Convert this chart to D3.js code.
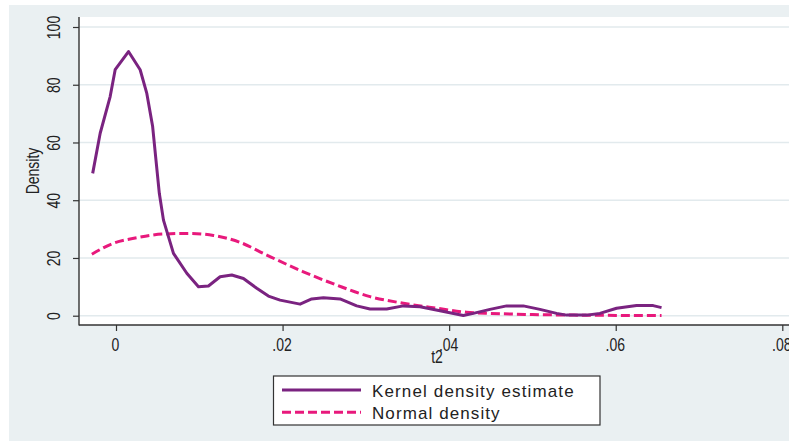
<!DOCTYPE html>
<html>
<head>
<meta charset="utf-8">
<script src="https://cdn.jsdelivr.net/npm/d3@7"></script>
<style>
  html, body { margin: 0; padding: 0; background: #ffffff; }
  svg { display: block; }
</style>
</head>
<body>
<script>
// ---- data ----
const kdeX = [-0.0028, -0.0019, -0.0007, -0.0001, 0.0015, 0.0029, 0.0037, 0.0044, 0.0048, 0.0052, 0.0057, 0.0069, 0.0085, 0.0099, 0.0111, 0.0125, 0.0139, 0.0153, 0.0169, 0.0183, 0.0197, 0.0221, 0.0235, 0.0249, 0.0269, 0.0289, 0.0305, 0.0325, 0.0345, 0.0365, 0.0389, 0.0417, 0.0429, 0.0449, 0.0469, 0.0489, 0.0509, 0.0529, 0.0541, 0.0565, 0.0581, 0.0601, 0.0625, 0.0645, 0.0655];
const kdeY = [49.3, 63.2, 75.9, 85.2, 91.5, 85.2, 77.0, 65.5, 53.9, 42.4, 33.1, 21.6, 14.7, 10.0, 10.3, 13.5, 14.1, 12.9, 9.5, 6.8, 5.4, 4.0, 5.8, 6.2, 5.8, 3.4, 2.3, 2.3, 3.4, 3.1, 1.7, 0.1, 0.8, 2.2, 3.4, 3.4, 2.2, 0.8, 0.2, 0.2, 0.8, 2.6, 3.5, 3.5, 2.8];
const normX = [-0.0029, -0.0003, 0.0025, 0.0057, 0.0089, 0.0117, 0.0149, 0.0181, 0.0225, 0.0265, 0.0305, 0.0345, 0.0385, 0.0421, 0.0450, 0.0500, 0.0550, 0.0600, 0.0655];
const normY = [21.3, 25.1, 27.0, 28.3, 28.5, 27.8, 25.4, 21.0, 15.2, 10.6, 6.6, 4.3, 2.6, 1.2, 0.8, 0.4, 0.2, 0.1, 0.05];
const xTicks = [0, 0.02, 0.04, 0.06, 0.08];
const xTickLabels = ["0", ".02", ".04", ".06", ".08"];
const yTicks = [0, 20, 40, 60, 80, 100];
const yTickLabels = ["0", "20", "40", "60", "80", "100"];
const seriesNames = ["Kernel density estimate", "Normal density"];
const xTitle = "t2";
const yTitle = "Density";

// ---- layout ----
const W = 789, H = 441;
const plotL = 79, plotT = 17, plotR = 789, plotB = 325;
const purple = "#7a2380", pink = "#e8197c";
const bg = "#eaf0f2", grid = "#e2eaed", axisCol = "#333333";
const textFont = "'Liberation Sans', Arial, sans-serif";
const narrow = 0.8;   // horizontal compression of axis texts

const svg = d3.select("body").append("svg").attr("width", W).attr("height", H);

svg.append("rect").attr("x", 9).attr("y", 5).attr("width", W - 9).attr("height", H - 5).attr("fill", bg);
svg.append("rect").attr("x", plotL).attr("y", plotT).attr("width", plotR - plotL).attr("height", plotB - plotT).attr("fill", "#ffffff");

const x = d3.scaleLinear().domain([0, 0.08]).range([116, 782.3]);
const y = d3.scaleLinear().domain([0, 100]).range([315.7, 27]);

// gridlines
svg.append("g").selectAll("line").data(yTicks).join("line")
  .attr("x1", plotL).attr("x2", plotR)
  .attr("y1", d => y(d)).attr("y2", d => y(d))
  .attr("stroke", grid).attr("stroke-width", 1.5);

// y axis
const yAxis = d3.axisLeft(y).tickValues(yTicks).tickSize(6).tickSizeOuter(0)
  .tickFormat((d, i) => yTickLabels[i]);
const gy = svg.append("g").attr("transform", `translate(${plotL},0)`).call(yAxis);
gy.select(".domain").remove();
gy.selectAll(".tick line").attr("stroke", axisCol).attr("stroke-width", 1.2);
gy.selectAll(".tick text")
  .attr("x", null).attr("dy", null)
  .attr("transform", `translate(-19,0) rotate(-90) scale(${narrow},1)`)
  .attr("text-anchor", "middle")
  .attr("font-family", textFont).attr("font-size", 17.5).attr("fill", "#222");

// x axis
const xAxis = d3.axisBottom(x).tickValues(xTicks).tickSize(6).tickSizeOuter(0)
  .tickFormat((d, i) => xTickLabels[i]);
const gx = svg.append("g").attr("transform", `translate(0,${plotB})`).call(xAxis);
gx.select(".domain").remove();
gx.selectAll(".tick line").attr("stroke", axisCol).attr("stroke-width", 1.2);
gx.selectAll(".tick text")
  .attr("y", null).attr("dy", null)
  .attr("transform", `translate(-1,26) scale(${narrow},1)`)
  .attr("font-family", textFont).attr("font-size", 17.5).attr("fill", "#222");

// axis lines
svg.append("line").attr("x1", plotL).attr("x2", plotL).attr("y1", plotT).attr("y2", plotB + 0.5)
  .attr("stroke", axisCol).attr("stroke-width", 1.4);
svg.append("line").attr("x1", plotL).attr("x2", plotR).attr("y1", plotB).attr("y2", plotB)
  .attr("stroke", axisCol).attr("stroke-width", 1.4);

// titles
svg.append("text").attr("transform", `translate(39,171) rotate(-90) scale(${narrow},1)`).attr("text-anchor", "middle")
  .attr("font-family", textFont).attr("font-size", 17.5).attr("fill", "#222").text(yTitle);
svg.append("text").attr("transform", `translate(437,363) scale(${narrow},1)`).attr("text-anchor", "middle")
  .attr("font-family", textFont).attr("font-size", 17.5).attr("fill", "#222").text(xTitle);

// series
const kde = kdeX.map((v, i) => [v, kdeY[i]]);
const norm = normX.map((v, i) => [v, normY[i]]);
const lineK = d3.line().x(d => x(d[0])).y(d => y(d[1])).curve(d3.curveLinear);
const lineN = d3.line().x(d => x(d[0])).y(d => y(d[1])).curve(d3.curveMonotoneX);

svg.append("path").datum(norm).attr("d", lineN).attr("fill", "none")
  .attr("stroke", pink).attr("stroke-width", 3).attr("stroke-dasharray", "9,4");
svg.append("path").datum(kde).attr("d", lineK).attr("fill", "none")
  .attr("stroke", purple).attr("stroke-width", 3).attr("stroke-linejoin", "round");

// legend
const lg = svg.append("g");
lg.append("rect").attr("x", 273.5).attr("y", 376).attr("width", 326.5).attr("height", 49)
  .attr("fill", "#ffffff").attr("stroke", "#333").attr("stroke-width", 1.2);
const legendItems = [
  { name: seriesNames[0], color: purple, dash: null, len: 201.6 },
  { name: seriesNames[1], color: pink, dash: "9,4", len: 127.6 }
];
legendItems.forEach((it, i) => {
  const cy = 390 + i * 22.3;
  lg.append("line").attr("x1", 282).attr("x2", 361).attr("y1", cy).attr("y2", cy)
    .attr("stroke", it.color).attr("stroke-width", 3).attr("stroke-dasharray", it.dash);
  lg.append("text").attr("x", 372).attr("y", cy + 6.5)
    .attr("font-family", textFont).attr("font-size", 17)
    .attr("textLength", it.len).attr("lengthAdjust", "spacing")
    .attr("fill", "#222").text(it.name);
});
</script>
</body>
</html>
